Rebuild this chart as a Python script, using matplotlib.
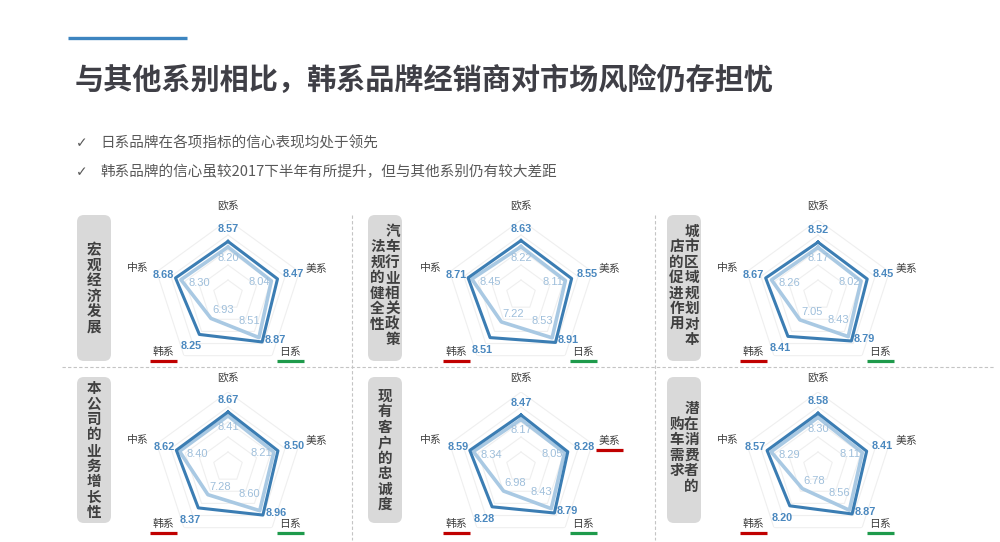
import numpy as np
import matplotlib
matplotlib.use('Agg')
import matplotlib.pyplot as plt
from matplotlib.patches import FancyBboxPatch

plt.rcParams['font.family'] = ['Noto Sans CJK SC', 'DejaVu Sans']

W, H = 1000, 542

title = '与其他系别相比，韩系品牌经销商对市场风险仍存担忧'
bullets = ['日系品牌在各项指标的信心表现均处于领先',
           '韩系品牌的信心虽较2017下半年有所提升，但与其他系别仍有较大差距']
brands = ['欧系', '美系', '日系', '韩系', '中系']

# indicator names, written as vertical columns (right column first)
indicators = [['宏观经济发展'],
              ['汽车行业相关政策', '法规的健全性'],
              ['城市区域规划对本', '店的促进作用'],
              ['本公司的业务增长性'],
              ['现有客户的忠诚度'],
              ['潜在消费者的', '购车需求']]

# confidence scores, order: 欧系 美系 日系 韩系 中系
current = [[8.57, 8.47, 8.87, 8.25, 8.68],
           [8.63, 8.55, 8.91, 8.51, 8.71],
           [8.52, 8.45, 8.79, 8.41, 8.67],
           [8.67, 8.50, 8.96, 8.37, 8.62],
           [8.47, 8.28, 8.79, 8.28, 8.59],
           [8.58, 8.41, 8.87, 8.20, 8.57]]
previous = [[8.20, 8.04, 8.51, 6.93, 8.30],
            [8.22, 8.11, 8.53, 7.22, 8.45],
            [8.17, 8.02, 8.43, 7.05, 8.26],
            [8.41, 8.21, 8.60, 7.28, 8.40],
            [8.17, 8.05, 8.43, 6.98, 8.34],
            [8.30, 8.11, 8.56, 6.78, 8.29]]

# brands underlined in each panel
RED, GREEN = '#c00000', '#1e9a4b'
underlines = [{'韩系': RED, '日系': GREEN}] * 4 + \
             [{'美系': RED, '韩系': RED, '日系': GREEN},
              {'韩系': RED, '日系': GREEN}]

DARK = '#3b7db3'
LIGHT = '#a9c9e3'
DARK_TXT = '#4a88bf'
LIGHT_TXT = '#9fbfdb'
GRAY = '#404040'

R = 75  # radar radius in px
centers_x = [228, 521, 818]
centers_y = [295, 467]
box_x = [77, 368, 667]
box_y = [215, 377]
box_w, box_h = 34, 146

fig = plt.figure(figsize=(W / 100, H / 100), dpi=100)
bg = fig.add_axes([0, 0, 1, 1])
bg.set_xlim(0, W)
bg.set_ylim(H, 0)
bg.axis('off')

# header
bg.plot([68, 187], [38, 38], color='#3d85c0', lw=2.4, solid_capstyle='butt')
bg.text(75, 80, title, fontsize=21, fontweight='bold', color='#3f3f46',
        va='center', ha='left')
for i, b in enumerate(bullets):
    y = 143 + i * 29
    bg.text(82, y, '✓', fontsize=10, color='#595959', va='center', ha='center',
            family=['DejaVu Sans'])
    bg.text(100, y, b, fontsize=10.5, color='#595959', va='center', ha='left')

# separators
bg.plot([62, 995], [367, 367], color='#c4c4c4', lw=0.8, ls=(0, (3, 2)))
for x in [352, 655]:
    bg.plot([x, x], [215, 540], color='#c4c4c4', lw=0.8, ls=(0, (3, 2)))

theta = np.deg2rad(np.arange(5) * 72)
theta_c = np.append(theta, theta[0])

dark_off = [(0, -12), (16, -5), (13, -2), (-8, 12), (-12, -3)]
light_off = [(0, 11), (-12, 1), (-10, -17), (12, -8), (18, 3)]
brand_off = [(0, -13), (17, -3), (18, -4), (-20, -4), (-19, -4)]

step = 15.5
for k in range(6):
    row, col = divmod(k, 3)
    cx, cy = centers_x[col], centers_y[row]

    # grey label box
    bx, by = box_x[col], box_y[row]
    bg.add_patch(FancyBboxPatch((bx, by), box_w, box_h,
                                boxstyle='round,pad=0,rounding_size=7',
                                fc='#d9d9d9', ec='none'))
    cols = indicators[k]
    n_rows = max(len(cols[0]), len(cols[1]) + 1) if len(cols) > 1 else len(cols[0])
    top = by + box_h / 2 - (n_rows - 1) / 2 * step
    if len(cols) > 1:
        top -= 3
        xs = [bx + box_w / 2 + 7.5, bx + box_w / 2 - 7.5]
        starts = [top, top + step]
    else:
        xs = [bx + box_w / 2]
        starts = [top]
    for text, x0, y0 in zip(cols, xs, starts):
        for j, ch in enumerate(text):
            bg.text(x0, y0 + j * step, ch, fontsize=10.5, fontweight='bold',
                    color=GRAY, ha='center', va='center')

    # brand labels
    for i, name in enumerate(brands):
        ang = np.pi / 2 - theta[i]
        vx = cx + R * np.cos(ang)
        vy = cy - R * np.sin(ang)
        lx, ly = vx + brand_off[i][0], vy + brand_off[i][1]
        bg.text(lx, ly, name, fontsize=7.8, color=GRAY, ha='center', va='center')
        if name in underlines[k]:
            bg.plot([lx - 13.5, lx + 13.5], [ly + 9.5, ly + 9.5],
                    color=underlines[k][name], lw=2.3, solid_capstyle='butt')

    # radar
    ax = fig.add_axes([(cx - R) / W, 1 - (cy + R) / H, 2 * R / W, 2 * R / H],
                      projection='polar')
    ax.set_theta_offset(np.pi / 2)
    ax.set_theta_direction(-1)
    ax.set_ylim(5, 10)
    ax.set_xticks([])
    ax.set_yticks([])
    ax.grid(False)
    ax.spines['polar'].set_visible(False)
    ax.patch.set_alpha(0)
    for r in [6, 7, 8, 9, 10]:
        ax.plot(theta_c, [r] * 6, color='#efefef', lw=0.8, zorder=1)

    prev = list(previous[k])
    cur = list(current[k])
    ax.plot(theta_c, prev + prev[:1], color=LIGHT, lw=2.6, zorder=2)
    ax.plot(theta_c, cur + cur[:1], color=DARK, lw=2.2, zorder=3)
    for i in range(5):
        ax.annotate(f'{prev[i]:.2f}', (theta[i], prev[i]),
                    xytext=(light_off[i][0] * 0.72, -light_off[i][1] * 0.72),
                    textcoords='offset points', ha='center', va='center',
                    fontsize=8, color=LIGHT_TXT, family=['Liberation Sans'],
                    zorder=4)
        ax.annotate(f'{cur[i]:.2f}', (theta[i], cur[i]),
                    xytext=(dark_off[i][0] * 0.72, -dark_off[i][1] * 0.72),
                    textcoords='offset points', ha='center', va='center',
                    fontsize=7.8, fontweight='bold', color=DARK_TXT,
                    family=['Liberation Sans'], zorder=5)

fig.savefig('out.png', dpi=100)
